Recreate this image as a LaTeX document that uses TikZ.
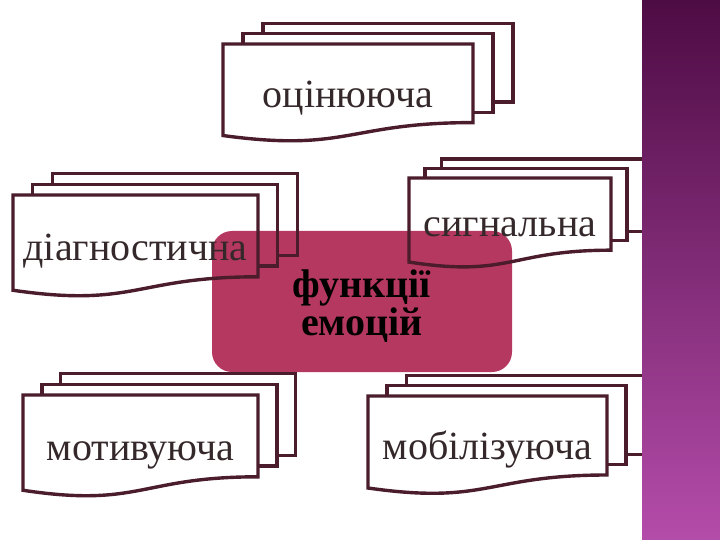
\documentclass[tikz,border=0pt]{standalone}
\usepackage{fontspec}
\setmainfont{Liberation Serif}
\definecolor{pageline}{RGB}{74,28,44}
\definecolor{pagetext}{RGB}{52,40,42}
\definecolor{hubfill}{RGB}{181,56,96}
\definecolor{stripTop}{RGB}{78,12,68}
\definecolor{stripBot}{RGB}{180,76,170}

\begin{document}
\begin{tikzpicture}[x=1pt,y=-1pt,
		page/.style={draw=pageline, line width=3.4pt, line join=miter},
		pagelabel/.style={text=pagetext, font=\fontsize{40}{46}\selectfont, inner sep=0pt},
		hub/.style={fill=hubfill, rounded corners=20pt, minimum width=300pt, minimum height=141pt},
		hubtext/.style={font=\fontsize{40}{38}\selectfont\bfseries, align=center, text=black, inner sep=0pt}]
		\useasboundingbox (0,0) rectangle (720,540);
		
		% centre block
		\node[hub] (emot) at (362,301.5) {};
		\node[hubtext] (emottext) at (362,306) {функції\\емоцій};
		
		% stacks of pages: left x / top y / width / height / name / label
		\foreach \x/\y/\w/\h/\name/\txt in {223/44/250/98/ocin/оцінююча,
			13/195/245/102/diag/діагностична,
			409/178/202/90/sygn/сигнальна,
			23/395/235/102/motyv/мотивуюча,
			368/396/239/98.5/mobil/мобілізуюча}
		{
			\pgfmathsetmacro{\shiftx}{0.08*\w}
			\pgfmathsetmacro{\shifty}{0.105*\h}
			\draw[page] (\x,\y) -- (\x+\w,\y) -- (\x+\w,\y+0.802*\h)
				.. controls (\x+0.5*\w,\y+0.802*\h) and (\x+0.5*\w,\y+1.108*\h) .. (\x,\y+0.934*\h) -- cycle;
			\draw[page] (\x+\shiftx,\y) -- (\x+\shiftx,\y-\shifty) -- (\x+\w+\shiftx,\y-\shifty)
				-- (\x+\w+\shiftx,\y+0.802*\h-\shifty) -- (\x+\w,\y+0.802*\h-\shifty);
			\draw[page] (\x+2*\shiftx,\y-\shifty) -- (\x+2*\shiftx,\y-2*\shifty) -- (\x+\w+2*\shiftx,\y-2*\shifty)
				-- (\x+\w+2*\shiftx,\y+0.802*\h-2*\shifty) -- (\x+\w+\shiftx,\y+0.802*\h-2*\shifty);
			\node[pagelabel, anchor=base] (\name) at (\x+0.5*\w,\y+0.645*\h) {\txt};
		}
		
		% side strip
		\shade[top color=stripTop, bottom color=stripBot] (642,0) rectangle (720,540);
	\end{tikzpicture}
\end{document}
